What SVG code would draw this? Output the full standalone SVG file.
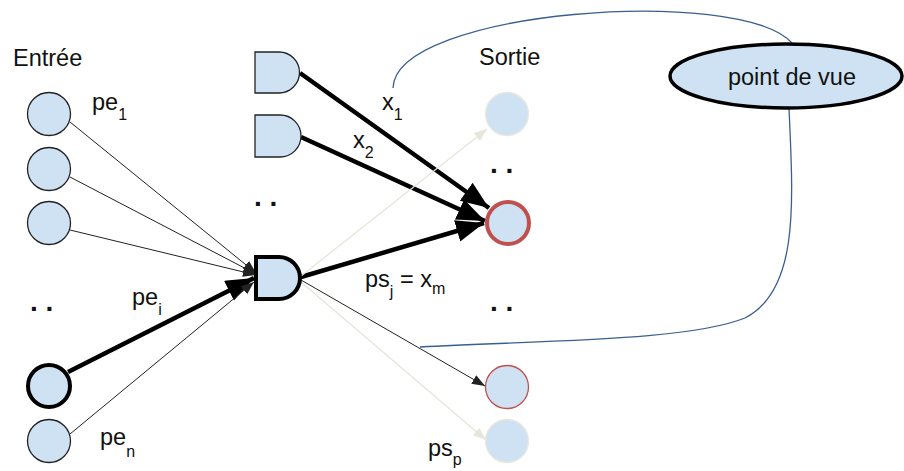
<svg xmlns="http://www.w3.org/2000/svg" width="904" height="471" viewBox="0 0 904 471">
<style>
.t{font-family:"Liberation Sans",Arial,sans-serif;font-size:23.5px;fill:#111}
.s{font-size:16px}
.d{font-family:"Liberation Sans",Arial,sans-serif;font-size:28px;font-weight:bold;fill:#111}
.n{fill:#cfe2f3;stroke:#222;stroke-width:1.3}
.nb{fill:#cfe2f3;stroke:#000;stroke-width:4}
.nf{fill:#cfe2f3;stroke:#e8e8de;stroke-width:1.3}
.thin{stroke:#222;stroke-width:1;fill:none}
.bold{stroke:#000;stroke-width:4.5;fill:none}
.faint{stroke:#e6e6da;stroke-width:1.3;fill:none}
.blue{stroke:#3a5f8f;stroke-width:1.3;fill:none}
</style>
<defs>
<marker id="ab" markerUnits="userSpaceOnUse" markerWidth="30" markerHeight="24" refX="28" refY="11" orient="auto"><path d="M0,0 L28,11 L0,22 z" fill="#000"/></marker>
<marker id="at" markerUnits="userSpaceOnUse" markerWidth="14" markerHeight="12" refX="13" refY="5" orient="auto"><path d="M0,0 L13,5 L0,10 z" fill="#222"/></marker>
<marker id="af" markerUnits="userSpaceOnUse" markerWidth="14" markerHeight="12" refX="13" refY="5" orient="auto"><path d="M0,0 L13,5 L0,10 z" fill="#e6e6da"/></marker>
</defs>
<g id="connectors">
<line class="thin" x1="70" y1="122" x2="256" y2="273" marker-end="url(#at)"/>
<line class="thin" x1="70" y1="177" x2="256" y2="274" marker-end="url(#at)"/>
<line class="thin" x1="70" y1="230" x2="256" y2="275" marker-end="url(#at)"/>
<line class="bold" x1="68" y1="372" x2="254" y2="278" marker-end="url(#ab)"/>
<line class="thin" x1="70" y1="434" x2="254" y2="282" marker-end="url(#at)"/>
<line class="bold" x1="300" y1="73" x2="489" y2="208" marker-end="url(#ab)"/>
<line class="bold" x1="301" y1="137" x2="485" y2="221" marker-end="url(#ab)"/>
<line class="bold" x1="301" y1="277" x2="484" y2="223" marker-end="url(#ab)"/>
<line class="faint" x1="301" y1="276" x2="487" y2="129" marker-end="url(#af)"/>
<line class="thin" x1="301" y1="280" x2="485" y2="386" marker-end="url(#at)"/>
<line class="faint" x1="301" y1="282" x2="486" y2="440" marker-end="url(#af)"/>
<path class="blue" d="M393,88 C395,10 740,-15 792,43"/>
<path class="blue" d="M789,108 C793,200 800,290 745,318 C690,340 560,340 420,347"/>
</g>
<g id="in1"><circle class="n" cx="49" cy="114" r="21.5"/></g>
<g id="in2"><circle class="n" cx="49" cy="169" r="21.5"/></g>
<g id="in3"><circle class="n" cx="49" cy="223" r="21.5"/></g>
<g id="ini"><circle class="nb" cx="49" cy="386" r="21"/></g>
<g id="inn"><circle class="n" cx="49" cy="441" r="21.5"/></g>
<g id="g1"><path class="n" d="M255,52 H279 A20.5,20.5 0 0 1 279,93 H255 Z"/></g>
<g id="g2"><path class="n" d="M255,115 H280 A21,21 0 0 1 280,157 H255 Z"/></g>
<g id="gm"><path class="nb" d="M256,257 H279 A21,21 0 0 1 279,299 H256 Z"/></g>
<g id="out1"><circle class="nf" cx="507" cy="114" r="21.5"/></g>
<g id="outj"><circle cx="508" cy="223" r="21" fill="#cfe2f3" stroke="#c0504d" stroke-width="4"/></g>
<g id="outk"><circle cx="507" cy="387" r="21.5" fill="#cfe2f3" stroke="#c0504d" stroke-width="1.3"/></g>
<g id="outp"><circle class="nf" cx="507" cy="441" r="21.5"/></g>
<g id="pdv"><ellipse cx="786" cy="76" rx="116" ry="32" fill="#cfe2f3" stroke="#000" stroke-width="3.5"/>
<text class="t" x="792" y="85" text-anchor="middle">point de vue</text></g>
<g id="labels">
<text class="t" x="13" y="66">Entrée</text>
<text class="t" x="479" y="65">Sortie</text>
<text class="t" x="92" y="110">pe<tspan class="s" dy="10">1</tspan></text>
<text class="t" x="132" y="305">pe<tspan class="s" dy="10">i</tspan></text>
<text class="t" x="100" y="445">pe<tspan class="s" dy="12">n</tspan></text>
<text class="t" x="382" y="110">x<tspan class="s" dy="10">1</tspan></text>
<text class="t" x="353" y="148">x<tspan class="s" dy="10">2</tspan></text>
<text class="t" x="365" y="287">ps<tspan class="s" dy="10">j</tspan><tspan dy="-10"> = x</tspan><tspan class="s" dy="7">m</tspan></text>
<text class="t" x="428" y="456">ps<tspan class="s" dy="9">p</tspan></text>
<text class="d" x="254" y="206">. .</text>
<text class="d" x="30" y="311">. .</text>
<text class="d" x="490" y="173">. .</text>
<text class="d" x="490" y="311">. .</text>
</g>
</svg>
